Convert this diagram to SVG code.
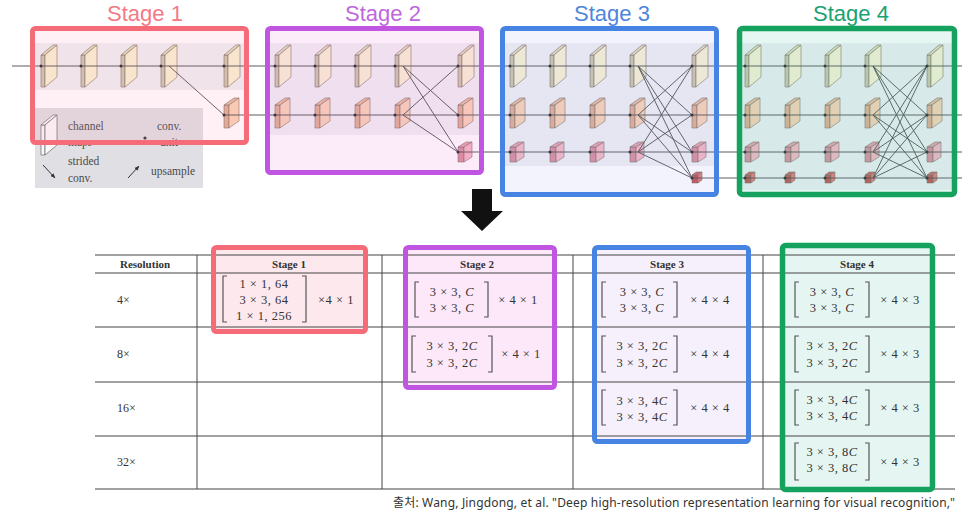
<svg xmlns="http://www.w3.org/2000/svg" xmlns:xlink="http://www.w3.org/1999/xlink" width="967" height="515" viewBox="0 0 967 515">
<style>
.ln{stroke:#4a4a4a;stroke-width:0.9;fill:none}
.dot{fill:#2a2a2a}
.title{font-family:"Liberation Sans","Noto Sans",sans-serif;font-size:22px;text-anchor:middle}
.leg{font-family:"Liberation Serif",serif;font-size:11.5px;fill:#4a4a4a}
.tl{stroke:#444;stroke-width:1;fill:none}
.tx{font-family:"Liberation Serif",serif;font-size:12px;fill:#333}
.txc{font-family:"Liberation Serif",serif;font-size:12.5px;letter-spacing:0.5px;fill:#333;text-anchor:middle}
.hd{font-family:"Liberation Serif",serif;font-size:11px;font-weight:bold;fill:#333;text-anchor:middle}
.br{stroke:#555;stroke-width:1.2;fill:none}
.it{font-style:italic}
.f1{fill:#faf2d4}.t1{fill:#e4dcbc}.s1{fill:#cdc6aa}
.f2{fill:#fad3b6}.t2{fill:#ecbb9e}.s2{fill:#e2ad90}
.f3{fill:#f7b6c4}.t3{fill:#eaa0ae}.s3{fill:#da8e9e}
.f4{fill:#ec7878}.t4{fill:#d86060}.s4{fill:#c85050}
.bk path{stroke:#7a7468;stroke-width:0.6;stroke-linejoin:round}
</style>
<defs>
<g id="blk1" class="bk">
<path class="s1" d="M0,-11 L4,-11 L4,21 L0,21 Z"/>
<path class="t1" d="M0,-11 L12,-21 L16,-21 L4,-11 Z"/>
<path class="f1" d="M4,-11 L16,-21 L16,11 L4,21 Z"/>
</g>
<g id="blk2" class="bk">
<path class="s2" d="M0,-10 L5,-10 L5,13 L0,13 Z"/>
<path class="t2" d="M0,-10 L10,-17 L15,-17 L5,-10 Z"/>
<path class="f2" d="M5,-10 L15,-17 L15,6 L5,13 Z"/>
</g>
<g id="blk3" class="bk">
<path class="s3" d="M0,-5 L6,-5 L6,10 L0,10 Z"/>
<path class="t3" d="M0,-5 L8,-10 L14,-10 L6,-5 Z"/>
<path class="f3" d="M6,-5 L14,-10 L14,5 L6,10 Z"/>
</g>
<g id="blk4" class="bk">
<path class="s4" d="M0,-3 L6,-3 L6,5 L0,5 Z"/>
<path class="t4" d="M0,-3 L4,-6 L10,-6 L6,-3 Z"/>
<path class="f4" d="M6,-3 L10,-6 L10,2 L6,5 Z"/>
</g>
<marker id="ah" viewBox="0 0 10 10" refX="9" refY="5" markerWidth="5" markerHeight="5" orient="auto">
<path d="M0,1 L10,5 L0,9 Z" fill="#333"/>
</marker>
</defs>
<rect width="967" height="515" fill="#ffffff"/>

<!-- background bands -->
<g id="bands" fill="#f0f0f4">
<rect x="33" y="43" width="212" height="47"/>
<rect x="268" y="43" width="212" height="92"/>
<rect x="503" y="43" width="213" height="123"/>
<rect x="740" y="43" width="213" height="147"/>
</g>

<!-- legend -->
<g id="legend">
<rect x="35" y="108" width="168" height="80" fill="#e0dfe4"/>
<g stroke="#666" stroke-width="0.7" fill="#fafafa">
<path d="M41,125 L45,125 L45,155 L41,155 Z"/>
<path d="M41,125 L53,115 L57,115 L45,125 Z"/>
<path d="M45,125 L57,115 L57,145 L45,155 Z"/>
</g>
<text class="leg" x="68" y="130">channel</text>
<text class="leg" x="68" y="146">maps</text>
<text class="leg" x="157" y="130">conv.</text>
<text class="leg" x="160" y="146">unit</text>
<circle cx="145" cy="138" r="1.6" fill="#333"/>
<text class="leg" x="68" y="165">strided</text>
<text class="leg" x="68" y="182">conv.</text>
<line x1="43" y1="165" x2="55" y2="178" stroke="#333" stroke-width="1" marker-end="url(#ah)"/>
<line x1="128" y1="178" x2="139" y2="166" stroke="#333" stroke-width="1" marker-end="url(#ah)"/>
<text class="leg" x="151" y="175">upsample</text>
</g>

<!-- nodes: stage 1 -->
<g id="stage1-net">
<g id="s1-r1-b1"><use xlink:href="#blk1" x="41" y="66"/></g>
<g id="s1-r1-b2"><use xlink:href="#blk1" x="81" y="66"/></g>
<g id="s1-r1-b3"><use xlink:href="#blk1" x="121" y="66"/></g>
<g id="s1-r1-b4"><use xlink:href="#blk1" x="161" y="66"/></g>
<g id="s1-r1-b5"><use xlink:href="#blk1" x="224" y="66"/></g>
<g id="s1-r2-b5"><use xlink:href="#blk2" x="224" y="115"/></g>
</g>
<!-- stage 2 -->
<g id="stage2-net">
<g id="s2-r1-b1"><use xlink:href="#blk1" x="275" y="66"/></g>
<g id="s2-r1-b2"><use xlink:href="#blk1" x="315" y="66"/></g>
<g id="s2-r1-b3"><use xlink:href="#blk1" x="355" y="66"/></g>
<g id="s2-r1-b4"><use xlink:href="#blk1" x="395" y="66"/></g>
<g id="s2-r1-b5"><use xlink:href="#blk1" x="458" y="66"/></g>
<g id="s2-r2-b1"><use xlink:href="#blk2" x="275" y="115"/></g>
<g id="s2-r2-b2"><use xlink:href="#blk2" x="315" y="115"/></g>
<g id="s2-r2-b3"><use xlink:href="#blk2" x="355" y="115"/></g>
<g id="s2-r2-b4"><use xlink:href="#blk2" x="395" y="115"/></g>
<g id="s2-r2-b5"><use xlink:href="#blk2" x="458" y="115"/></g>
<g id="s2-r3-b5"><use xlink:href="#blk3" x="458" y="152"/></g>
</g>
<!-- stage 3 -->
<g id="stage3-net">
<g id="s3-r1-b1"><use xlink:href="#blk1" x="510" y="66"/></g>
<g id="s3-r1-b2"><use xlink:href="#blk1" x="550" y="66"/></g>
<g id="s3-r1-b3"><use xlink:href="#blk1" x="590" y="66"/></g>
<g id="s3-r1-b4"><use xlink:href="#blk1" x="630" y="66"/></g>
<g id="s3-r1-b5"><use xlink:href="#blk1" x="692" y="66"/></g>
<g id="s3-r2-b1"><use xlink:href="#blk2" x="510" y="115"/></g>
<g id="s3-r2-b2"><use xlink:href="#blk2" x="550" y="115"/></g>
<g id="s3-r2-b3"><use xlink:href="#blk2" x="590" y="115"/></g>
<g id="s3-r2-b4"><use xlink:href="#blk2" x="630" y="115"/></g>
<g id="s3-r2-b5"><use xlink:href="#blk2" x="692" y="115"/></g>
<g id="s3-r3-b1"><use xlink:href="#blk3" x="510" y="152"/></g>
<g id="s3-r3-b2"><use xlink:href="#blk3" x="550" y="152"/></g>
<g id="s3-r3-b3"><use xlink:href="#blk3" x="590" y="152"/></g>
<g id="s3-r3-b4"><use xlink:href="#blk3" x="630" y="152"/></g>
<g id="s3-r3-b5"><use xlink:href="#blk3" x="692" y="152"/></g>
<g id="s3-r4-b5"><use xlink:href="#blk4" x="692" y="178"/></g>
</g>
<!-- stage 4 -->
<g id="stage4-net">
<g id="s4-r1-b1"><use xlink:href="#blk1" x="745" y="66"/></g>
<g id="s4-r1-b2"><use xlink:href="#blk1" x="785" y="66"/></g>
<g id="s4-r1-b3"><use xlink:href="#blk1" x="825" y="66"/></g>
<g id="s4-r1-b4"><use xlink:href="#blk1" x="865" y="66"/></g>
<g id="s4-r1-b5"><use xlink:href="#blk1" x="927" y="66"/></g>
<g id="s4-r2-b1"><use xlink:href="#blk2" x="745" y="115"/></g>
<g id="s4-r2-b2"><use xlink:href="#blk2" x="785" y="115"/></g>
<g id="s4-r2-b3"><use xlink:href="#blk2" x="825" y="115"/></g>
<g id="s4-r2-b4"><use xlink:href="#blk2" x="865" y="115"/></g>
<g id="s4-r2-b5"><use xlink:href="#blk2" x="927" y="115"/></g>
<g id="s4-r3-b1"><use xlink:href="#blk3" x="745" y="152"/></g>
<g id="s4-r3-b2"><use xlink:href="#blk3" x="785" y="152"/></g>
<g id="s4-r3-b3"><use xlink:href="#blk3" x="825" y="152"/></g>
<g id="s4-r3-b4"><use xlink:href="#blk3" x="865" y="152"/></g>
<g id="s4-r3-b5"><use xlink:href="#blk3" x="927" y="152"/></g>
<g id="s4-r4-b1"><use xlink:href="#blk4" x="745" y="178"/></g>
<g id="s4-r4-b2"><use xlink:href="#blk4" x="785" y="178"/></g>
<g id="s4-r4-b3"><use xlink:href="#blk4" x="825" y="178"/></g>
<g id="s4-r4-b4"><use xlink:href="#blk4" x="865" y="178"/></g>
<g id="s4-r4-b5"><use xlink:href="#blk4" x="927" y="178"/></g>
</g>

<!-- connectors -->
<g id="connectors" class="ln">
<path d="M12,66 H962 M224,115 H962 M458,152 H962 M692,178 H962"/>
<path d="M169,66 L224,115"/>
<path d="M403,66 L458,115 M403,66 L458,152 M403,115 L458,66 M403,115 L458,152"/>
<path d="M638,66 L692,115 M638,66 L692,152 M638,66 L692,178 M638,115 L692,66 M638,115 L692,152 M638,115 L692,178 M638,152 L692,66 M638,152 L692,115 M638,152 L692,178"/>
<path d="M873,66 L927,115 M873,66 L927,152 M873,66 L927,178 M873,115 L927,66 M873,115 L927,152 M873,115 L927,178 M873,152 L927,66 M873,152 L927,115 M873,152 L927,178 M873,178 L927,66 M873,178 L927,115 M873,178 L927,152"/>
</g>
<g id="dots" class="dot">
<circle cx="41" cy="66" r="1.5"/><circle cx="81" cy="66" r="1.5"/><circle cx="121" cy="66" r="1.5"/><circle cx="161" cy="66" r="1.5"/><circle cx="224" cy="66" r="1.5"/><circle cx="224" cy="115" r="1.5"/>
<circle cx="275" cy="66" r="1.5"/><circle cx="315" cy="66" r="1.5"/><circle cx="355" cy="66" r="1.5"/><circle cx="395" cy="66" r="1.5"/><circle cx="458" cy="66" r="1.5"/>
<circle cx="275" cy="115" r="1.5"/><circle cx="315" cy="115" r="1.5"/><circle cx="355" cy="115" r="1.5"/><circle cx="395" cy="115" r="1.5"/><circle cx="458" cy="115" r="1.5"/><circle cx="458" cy="152" r="1.5"/>
<circle cx="510" cy="66" r="1.5"/><circle cx="550" cy="66" r="1.5"/><circle cx="590" cy="66" r="1.5"/><circle cx="630" cy="66" r="1.5"/><circle cx="692" cy="66" r="1.5"/>
<circle cx="510" cy="115" r="1.5"/><circle cx="550" cy="115" r="1.5"/><circle cx="590" cy="115" r="1.5"/><circle cx="630" cy="115" r="1.5"/><circle cx="692" cy="115" r="1.5"/>
<circle cx="510" cy="152" r="1.5"/><circle cx="550" cy="152" r="1.5"/><circle cx="590" cy="152" r="1.5"/><circle cx="630" cy="152" r="1.5"/><circle cx="692" cy="152" r="1.5"/><circle cx="692" cy="178" r="1.5"/>
<circle cx="745" cy="66" r="1.5"/><circle cx="785" cy="66" r="1.5"/><circle cx="825" cy="66" r="1.5"/><circle cx="865" cy="66" r="1.5"/><circle cx="927" cy="66" r="1.5"/>
<circle cx="745" cy="115" r="1.5"/><circle cx="785" cy="115" r="1.5"/><circle cx="825" cy="115" r="1.5"/><circle cx="865" cy="115" r="1.5"/><circle cx="927" cy="115" r="1.5"/>
<circle cx="745" cy="152" r="1.5"/><circle cx="785" cy="152" r="1.5"/><circle cx="825" cy="152" r="1.5"/><circle cx="865" cy="152" r="1.5"/><circle cx="927" cy="152" r="1.5"/>
<circle cx="745" cy="178" r="1.5"/><circle cx="785" cy="178" r="1.5"/><circle cx="825" cy="178" r="1.5"/><circle cx="865" cy="178" r="1.5"/><circle cx="927" cy="178" r="1.5"/>
</g>

<!-- stage frames (top) -->
<g id="stage1-frame">
<rect x="32.5" y="28.5" width="214" height="114" rx="3" fill="#f48aa8" fill-opacity="0.13" stroke="#f66b78" stroke-width="5"/>
<text class="title" x="145" y="21" fill="#f37a86">Stage 1</text>
</g>
<g id="stage2-frame">
<rect x="267.5" y="28.5" width="214" height="144" rx="3" fill="#e77ad8" fill-opacity="0.14" stroke="#bf55e0" stroke-width="5"/>
<text class="title" x="383" y="21" fill="#c066dc">Stage 2</text>
</g>
<g id="stage3-frame">
<rect x="502.5" y="28.5" width="214" height="166" rx="3" fill="#9aa6e6" fill-opacity="0.13" stroke="#4683e2" stroke-width="5"/>
<text class="title" x="612" y="21" fill="#4f86dc">Stage 3</text>
</g>
<g id="stage4-frame">
<rect x="739.5" y="28.5" width="215" height="166" rx="3" fill="#5cc8b4" fill-opacity="0.16" stroke="#14a25e" stroke-width="5.5"/>
<text class="title" x="851" y="21" fill="#1aa270">Stage 4</text>
</g>

<!-- down arrow -->
<g id="down-arrow">
<path d="M472,189 H492 V211 H503 L482,231 L461,211 H472 Z" fill="#111"/>
</g>

<!-- table highlight fills -->
<g id="table-fills">
<rect x="213.5" y="247.5" width="152" height="84" fill="#fde8ee"/>
<rect x="405.5" y="247.5" width="149" height="140" fill="#fde8fa"/>
<rect x="594.5" y="247.5" width="154" height="194" fill="#f5f0fb"/>
<rect x="782.5" y="245.5" width="150" height="244" fill="#e5f6f2"/>
</g>

<!-- table -->
<g id="table">
<path class="tl" d="M95,255 H955" stroke-width="1.3"/>
<path class="tl" d="M95,273 H955 M95,327 H955 M95,382 H955 M95,436 H955 M95,489 H955"/>
<path class="tl" d="M197,255 V489 M382,255 V489 M573,255 V489 M763,255 V489"/>
<text class="hd" x="145" y="268">Resolution</text>
<text class="hd" x="289" y="268">Stage 1</text>
<text class="hd" x="477" y="268">Stage 2</text>
<text class="hd" x="667" y="268">Stage 3</text>
<text class="hd" x="857" y="268">Stage 4</text>
<text class="tx" x="117" y="304">4×</text>
<text class="tx" x="117" y="358">8×</text>
<text class="tx" x="117" y="412">16×</text>
<text class="tx" x="117" y="466">32×</text>
</g>

<!-- stage 1 cell -->
<g id="cell-s1-4x">
<path class="br" d="M227,276 H223 V322 H227 M302,276 H306 V322 H302"/>
<text class="txc" x="264" y="288">1 × 1, 64</text>
<text class="txc" x="264" y="304">3 × 3, 64</text>
<text class="txc" x="264" y="320">1 × 1, 256</text>
<text class="txc" x="336" y="304">×4 × 1</text>
</g>
<!-- stage 2 cells -->
<g id="cell-s2-4x">
<path class="br" d="M419,282 H415 V317 H419 M484,282 H488 V317 H484"/>
<text class="txc" x="452" y="296">3 × 3, <tspan class="it">C</tspan></text>
<text class="txc" x="452" y="312">3 × 3, <tspan class="it">C</tspan></text>
<text class="txc" x="518" y="304">× 4 × 1</text>
</g>
<g id="cell-s2-8x">
<path class="br" d="M416,336 H412 V372 H416 M488,336 H492 V372 H488"/>
<text class="txc" x="452" y="350">3 × 3, 2<tspan class="it">C</tspan></text>
<text class="txc" x="452" y="367">3 × 3, 2<tspan class="it">C</tspan></text>
<text class="txc" x="521" y="358">× 4 × 1</text>
</g>
<!-- stage 3 cells -->
<g id="cell-s3-4x">
<path class="br" d="M606,282 H602 V317 H606 M673,282 H677 V317 H673"/>
<text class="txc" x="642" y="296">3 × 3, <tspan class="it">C</tspan></text>
<text class="txc" x="642" y="312">3 × 3, <tspan class="it">C</tspan></text>
<text class="txc" x="710" y="304">× 4 × 4</text>
</g>
<g id="cell-s3-8x">
<path class="br" d="M606,336 H602 V372 H606 M673,336 H677 V372 H673"/>
<text class="txc" x="642" y="350">3 × 3, 2<tspan class="it">C</tspan></text>
<text class="txc" x="642" y="367">3 × 3, 2<tspan class="it">C</tspan></text>
<text class="txc" x="710" y="358">× 4 × 4</text>
</g>
<g id="cell-s3-16x">
<path class="br" d="M606,390 H602 V425 H606 M673,390 H677 V425 H673"/>
<text class="txc" x="642" y="405">3 × 3, 4<tspan class="it">C</tspan></text>
<text class="txc" x="642" y="421">3 × 3, 4<tspan class="it">C</tspan></text>
<text class="txc" x="710" y="412">× 4 × 4</text>
</g>
<!-- stage 4 cells -->
<g id="cell-s4-4x">
<path class="br" d="M799,282 H795 V317 H799 M865,282 H869 V317 H865"/>
<text class="txc" x="832" y="296">3 × 3, <tspan class="it">C</tspan></text>
<text class="txc" x="832" y="312">3 × 3, <tspan class="it">C</tspan></text>
<text class="txc" x="900" y="304">× 4 × 3</text>
</g>
<g id="cell-s4-8x">
<path class="br" d="M799,336 H795 V372 H799 M865,336 H869 V372 H865"/>
<text class="txc" x="832" y="350">3 × 3, 2<tspan class="it">C</tspan></text>
<text class="txc" x="832" y="367">3 × 3, 2<tspan class="it">C</tspan></text>
<text class="txc" x="900" y="358">× 4 × 3</text>
</g>
<g id="cell-s4-16x">
<path class="br" d="M799,390 H795 V425 H799 M865,390 H869 V425 H865"/>
<text class="txc" x="832" y="404">3 × 3, 4<tspan class="it">C</tspan></text>
<text class="txc" x="832" y="420">3 × 3, 4<tspan class="it">C</tspan></text>
<text class="txc" x="900" y="412">× 4 × 3</text>
</g>
<g id="cell-s4-32x">
<path class="br" d="M799,443 H795 V480 H799 M865,443 H869 V480 H865"/>
<text class="txc" x="832" y="456">3 × 3, 8<tspan class="it">C</tspan></text>
<text class="txc" x="832" y="472">3 × 3, 8<tspan class="it">C</tspan></text>
<text class="txc" x="900" y="466">× 4 × 3</text>
</g>

<!-- table highlight frames -->
<g id="table-frames" fill="none">
<rect x="213.5" y="247.5" width="152" height="84" rx="3" stroke="#f66b78" stroke-width="5"/>
<rect x="405.5" y="247.5" width="149" height="140" rx="3" stroke="#bf55e0" stroke-width="5"/>
<rect x="594.5" y="247.5" width="154" height="194" rx="3" stroke="#4683e2" stroke-width="5"/>
<rect x="782.5" y="245.5" width="150" height="244" rx="3" stroke="#14a25e" stroke-width="5.5"/>
</g>

<text id="citation" x="393" y="507" font-family="'Noto Sans','Noto Sans CJK KR',sans-serif" font-size="12" textLength="562" lengthAdjust="spacing" fill="#333">출처: Wang, Jingdong, et al. "Deep high-resolution representation learning for visual recognition,"</text>
</svg>
